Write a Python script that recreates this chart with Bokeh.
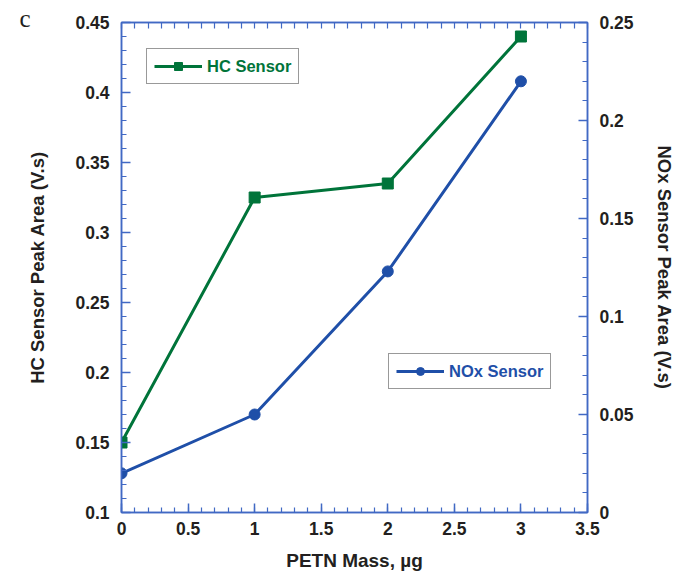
from bokeh.plotting import figure
from bokeh.models import (Range1d, LinearAxis, FixedTicker, Legend, LegendItem)
from bokeh.embed import file_html
from bokeh.resources import INLINE
import numpy as np

# data
petn_mass = [0, 1, 2, 3]
hc_area = [0.150, 0.325, 0.335, 0.440]
nox_area = [0.020, 0.050, 0.123, 0.220]

x_ticks = [0, 0.5, 1, 1.5, 2, 2.5, 3, 3.5]
y_left_ticks = [0.1, 0.15, 0.2, 0.25, 0.3, 0.35, 0.4, 0.45]
y_right_ticks = [0, 0.05, 0.1, 0.15, 0.2, 0.25]

GREEN = "#00743a"
BLUE = "#1f4fa8"
AXIS = "#4169c4"
TXT = "#231f20"
FONT = "Liberation Sans"

p = figure(width=678, height=574, output_backend="svg", toolbar_location=None,
           x_range=Range1d(0, 3.5), y_range=Range1d(0.1, 0.45),
           min_border_left=121, min_border_right=91, min_border_top=22, min_border_bottom=62,
           x_axis_location=None, y_axis_location=None)
p.extra_y_ranges = {"nox": Range1d(0, 0.25)}
p.grid.visible = False
p.outline_line_color = AXIS
p.outline_line_width = 1.5
p.background_fill_color = "white"
p.border_fill_color = "white"

# panel letter as the plot title
p.title.text = "c"
p.title.text_font = "Liberation Serif"
p.title.text_font_style = "normal"
p.title.text_font_size = "25px"
p.title.text_color = TXT
p.title.align = "left"
p.title.offset = -102
p.title.standoff = -19
p.title.padding = dict(left=0, right=0, top=8, bottom=0)


def style(ax):
    ax.axis_line_color = AXIS
    ax.axis_line_width = 1.5
    ax.major_tick_line_color = AXIS
    ax.minor_tick_line_color = AXIS
    ax.major_tick_line_width = 1.5
    ax.minor_tick_line_width = 1.2
    ax.major_tick_in = 9
    ax.major_tick_out = 0
    ax.minor_tick_in = 5
    ax.minor_tick_out = 0
    ax.major_label_text_font = FONT
    ax.major_label_text_font_style = "bold"
    ax.major_label_text_font_size = "17.5px"
    ax.major_label_text_color = TXT
    ax.axis_label_text_font = FONT
    ax.axis_label_text_font_style = "bold"
    ax.axis_label_text_font_size = "18.5px"
    ax.axis_label_text_color = TXT


xminor = list(np.round(np.arange(0, 3.5001, 0.1), 3))
xb = LinearAxis(ticker=FixedTicker(ticks=x_ticks, minor_ticks=xminor), axis_label="PETN Mass, µg")
style(xb)
xb.axis_label_text_font_size = "19px"
xb.major_label_standoff = 9
xb.axis_label_standoff = 12
p.add_layout(xb, "below")

xt = LinearAxis(ticker=FixedTicker(ticks=[], minor_ticks=xminor))
style(xt)
xt.minor_tick_in = 6
p.add_layout(xt, "above")

ylminor = list(np.round(np.arange(0.1, 0.4501, 0.01), 3))
yl = LinearAxis(ticker=FixedTicker(ticks=y_left_ticks, minor_ticks=ylminor),
                axis_label="HC Sensor Peak Area (V.s)")
style(yl)
yl.major_label_standoff = 12
yl.axis_label_standoff = 24
p.add_layout(yl, "left")

yrminor = list(np.round(np.arange(0, 0.2501, 0.01), 3))
yr = LinearAxis(y_range_name="nox", ticker=FixedTicker(ticks=y_right_ticks, minor_ticks=yrminor),
                axis_label="NOx Sensor Peak Area (V.s)")
style(yr)
yr.major_label_standoff = 12
yr.axis_label_standoff = 17
p.add_layout(yr, "right")

hc_line = p.line(petn_mass, hc_area, line_color=GREEN, line_width=3)
hc_pts = p.scatter(petn_mass, hc_area, marker="square", size=11, fill_color=GREEN, line_color=GREEN)
nox_line = p.line(petn_mass, nox_area, line_color=BLUE, line_width=3, y_range_name="nox")
nox_pts = p.scatter(petn_mass, nox_area, marker="circle", size=11, fill_color=BLUE, line_color=BLUE,
                    y_range_name="nox")


def mk_legend(label, rends, color, loc):
    lg = Legend(items=[LegendItem(label=label, renderers=rends)], location=loc,
                border_line_color="#333333", border_line_width=1.5,
                background_fill_alpha=1.0, label_text_font=FONT, label_text_font_style="bold",
                label_text_font_size="16.5px", label_text_color=color,
                glyph_width=48, glyph_height=20, padding=7, margin=0, spacing=0,
                label_standoff=5)
    p.add_layout(lg, "center")
    return lg


mk_legend("HC Sensor", [hc_line, hc_pts], GREEN, (25, 428))
mk_legend("NOx Sensor", [nox_line, nox_pts], BLUE, (267, 123))

open("out.html", "w").write(file_html(p, INLINE))
